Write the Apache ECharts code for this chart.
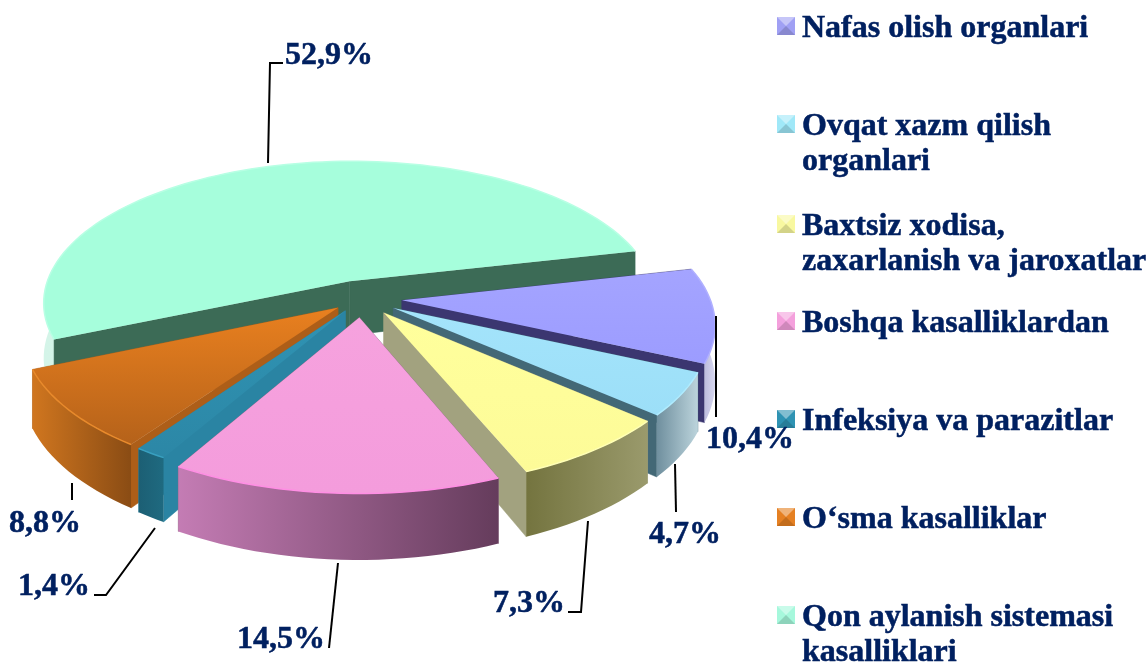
<!DOCTYPE html>
<html>
<head>
<meta charset="utf-8">
<style>html,body{margin:0;padding:0;background:#fff}#main{width:1148px;height:664px}</style>
<script src="https://cdn.jsdelivr.net/npm/echarts@6/dist/echarts.min.js"></script>
</head>
<body>
<div id="main"></div>
<script>
var categories = ['Nafas olish organlari', 'Ovqat xazm qilish\norganlari', 'Baxtsiz xodisa,\nzaxarlanish va jaroxatlar',
   'Boshqa kasalliklardan', 'Infeksiya va parazitlar', 'O‘sma kasalliklar', 'Qon aylanish sistemasi\nkasalliklari'];
var values = [10.4, 4.7, 7.3, 14.5, 1.4, 8.8, 52.9];

// colours: top face, outer wall (left, right), cut wall
var topColors = [['#a4a4ff', '#9c9cff'], ['#a4e4fb', '#9cdff8'], ['#ffff9c', '#fdfb98'], ['#f6a2de', '#f49cdc'], ['#2f93b3', '#2c87a6'], ['#e9801f', '#b5621a'], ['#a6fedc', '#a6fedc']];
var wallColors = [['#9a9ac4', '#d8d8f0'], ['#6f8f9e', '#bcd4dc'], ['#74743f', '#9a9a6c'], ['#c47cb4', '#653c5c'], ['#1c5f74', '#1f6a80'], ['#d0761f', '#8a4c14'], ['#d4f4e8', '#e8faf3']];
var cutColors = ['#3b3670', '#436876', '#a2a27f', '#8a6a80', '#2a84a3', '#ad5e18', '#3c6b56'];
var edgeColors = ['#b0b0ff', '#b0ecff', '#ffffb4', '#ff8ee4', '#39a0c0', '#e88a2c', '#b8ffe4'];
var legendColors = ['#a0a0f4', '#a0e8f8', '#f8f8a0', '#f4a0dc', '#2f93b3', '#e58022', '#a6f8dc'];

// label layout: text anchor and leader line
var labelPos = [[750, 440], [685, 535], [529, 604], [281, 640], [54, 587], [45, 524], [329, 56]];
var leaders = [
   [[716, 316], [716, 417]],
   [[675, 464], [676, 512]],
   [[588, 521], [581, 612], [568, 612]],
   [[338, 563], [329, 648]],
   [[155, 528], [106, 595], [94, 595]],
   [[72, 483], [72, 500]],
   [[268, 163], [270, 63], [283, 63]]
];
var legendTop = [11, 109, 209, 306, 404, 502, 600];

var cx = 362, cy = 298.5, rx = 308, ry = 143, persp = 0.152, depth = 55, startAngle = -13;
var explode = [0.13, 0.12, 0.12, 0.13, 0.1, 0.1, 0.13];
var textColor = '#002060';

var total = values.reduce(function (a, b) { return a + b; }, 0);
var angles = [];
values.reduce(function (acc, v) {
   var end = acc + v / total * 360;
   angles.push([acc, end]);
   return end;
}, startAngle);

function project(u, v, h) {
   var w = 1 - persp * v;
   return [cx + rx * u / w, cy + (ry * v + h) / w];
}

function arcPoints(a0, a1, ox, oy, h) {
   var pts = [];
   var n = Math.max(4, Math.ceil((a1 - a0) / 2));
   for (var i = 0; i <= n; i++) {
      var a = (a0 + (a1 - a0) * i / n) * Math.PI / 180;
      pts.push(project(Math.cos(a) + ox, Math.sin(a) + oy, h));
   }
   return pts;
}

function renderSlice(params) {
   var i = params.dataIndex;
   var a0 = angles[i][0], a1 = angles[i][1];
   var mid = (a0 + a1) / 2 * Math.PI / 180;
   var ox = explode[i] * Math.cos(mid), oy = explode[i] * Math.sin(mid);
   var big = values[i] > 50;
   var base = big ? 0 : Math.round((Math.sin(mid) + 1) * 50) * 10;

   var apexTop = project(ox, oy, 0), apexBot = project(ox, oy, depth);
   var topArc = arcPoints(a0, a1, ox, oy, 0), botArc = arcPoints(a0, a1, ox, oy, depth);
   var first = topArc[0], last = topArc[topArc.length - 1];
   var firstB = botArc[0], lastB = botArc[botArc.length - 1];

   function poly(points, fill, z) {
      return {
         type: 'polygon', shape: { points: points }, z2: base + z,
         style: { fill: fill, stroke: typeof fill === 'string' ? fill : null, lineWidth: 0.5 }
      };
   }
   var outerFill = new echarts.graphic.LinearGradient(0, 0, 1, 0, [
      { offset: 0, color: wallColors[i][0] }, { offset: 1, color: wallColors[i][1] }]);
   var topFill = new echarts.graphic.LinearGradient(0, 0, 0, 1, [
      { offset: 0, color: topColors[i][0] }, { offset: 1, color: topColors[i][1] }]);
   var outer = poly(topArc.concat(botArc.slice().reverse()), outerFill, big ? 1 : 4);

   return {
      type: 'group',
      children: [
         outer,
         poly([apexTop, first, firstB, apexBot], cutColors[i], 2),
         poly([apexTop, last, lastB, apexBot], cutColors[i], 3),
         poly([apexTop].concat(topArc), topFill, 5),
         { type: 'polyline', z2: base + 6, shape: { points: topArc }, style: { stroke: edgeColors[i], lineWidth: 1.5, fill: null } },
         { type: 'polyline', z2: 2000, shape: { points: leaders[i] }, style: { stroke: '#000', lineWidth: 2, fill: null } },
         {
            type: 'text', z2: 2001,
            style: {
               text: values[i].toFixed(1).replace('.', ',') + '%',
               x: labelPos[i][0], y: labelPos[i][1], fill: textColor, stroke: textColor, lineWidth: 0.5,
               font: 'bold 32px "Liberation Serif"', align: 'center', verticalAlign: 'middle'
            }
         }
      ]
   };
}

// legend is drawn by hand: markers sit on the first text line of two line entries
var legendGraphic = [];
categories.forEach(function (name, i) {
   var x = 777, y = legendTop[i] + 6, s = 18, c = [x + s / 2, y + s / 2];
   legendGraphic.push({ type: 'rect', shape: { x: x, y: y, width: s, height: s }, style: { fill: legendColors[i] } });
   legendGraphic.push({ type: 'polygon', shape: { points: [[x, y], [x + s, y], c] }, style: { fill: 'rgba(255,255,255,0.4)' } });
   legendGraphic.push({ type: 'polygon', shape: { points: [[x, y + s], [x + s, y + s], c] }, style: { fill: 'rgba(0,0,0,0.15)' } });
   legendGraphic.push({
      type: 'text',
      style: {
         text: name, x: 802, y: legendTop[i], fill: textColor, stroke: textColor, lineWidth: 0.5,
         font: 'bold 32px "Liberation Serif"', lineHeight: 35, verticalAlign: 'top'
      }
   });
});

var myChart = echarts.init(document.getElementById('main'));
myChart.setOption({
   animation: false,
   graphic: legendGraphic,
   series: [{
      type: 'custom',
      coordinateSystem: 'none',
      renderItem: renderSlice,
      data: values.map(function (v, i) { return { name: categories[i], value: v }; })
   }]
});
</script>
</body>
</html>
